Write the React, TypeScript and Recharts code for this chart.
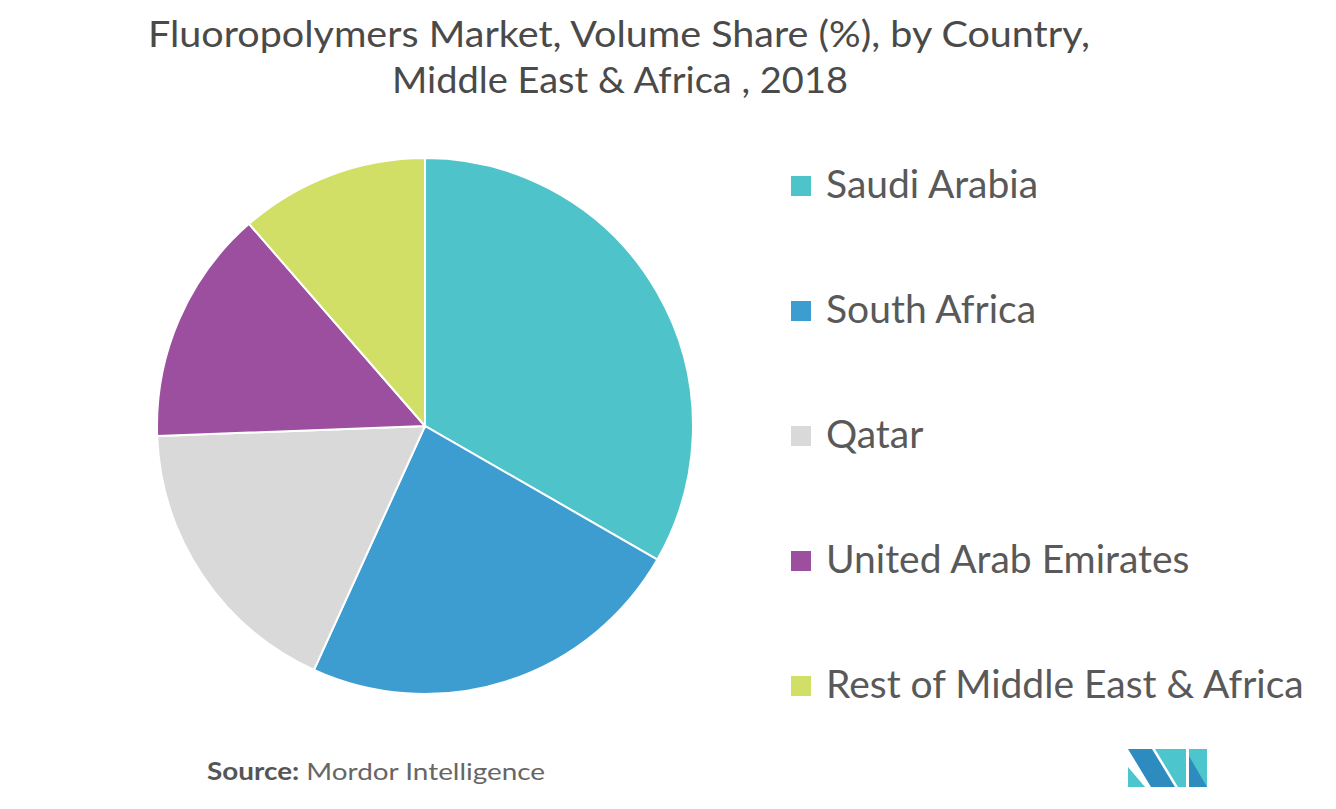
import React from 'react';
import { PieChart, Pie, Cell, Legend } from 'recharts';

const countries = ['Saudi Arabia', 'South Africa', 'Qatar', 'United Arab Emirates', 'Rest of Middle East & Africa'];
const shares = [33.3, 23.5, 17.6, 14.2, 11.4];
const colors = ['#4FC3CA', '#3D9DD0', '#D9D9D9', '#9B4F9E', '#D1DF66'];
const titleLines = ['Fluoropolymers Market, Volume Share (%), by Country,', 'Middle East & Africa , 2018'];
const sourceLabel = 'Source:';
const sourceName = 'Mordor Intelligence';

const data = countries.map((name, i) => ({ name, value: shares[i] }));

const W = 1320;
const H = 793;
const FONT = 'Lato, "Open Sans", sans-serif';

const LegendContent = (props: any) => {
  const payload = [...(props.payload || [])].sort(
    (a: any, b: any) => countries.indexOf(a.value) - countries.indexOf(b.value)
  );
  return (
    <svg width={540} height={580} style={{ display: 'block' }}>
      {payload.map((p: any, i: number) => {
        const cy = 28 + i * 125;
        return (
          <g key={i}>
            <rect x={8} y={cy - 10} width={20} height={20} fill={p.color} />
            <text x={43} y={cy + 12} fontFamily={FONT} fontSize={39} fill="#595959">
              {p.value}
            </text>
          </g>
        );
      })}
    </svg>
  );
};

export default function App() {
  return (
    <div style={{ position: 'relative', width: W, height: H, background: '#fff' }}>
      <svg width={W} height={H} style={{ position: 'absolute', left: 0, top: 0 }}>
        <text x={611} y={39} textAnchor="middle" fontFamily={FONT} fontSize={37} fill="#4a4a4a"
          textLength={942} lengthAdjust="spacingAndGlyphs">{titleLines[0]}</text>
        <text x={612} y={85} textAnchor="middle" fontFamily={FONT} fontSize={37} fill="#4a4a4a"
          textLength={456} lengthAdjust="spacingAndGlyphs">{titleLines[1]}</text>
        <text x={199} y={772} fontFamily={FONT} fontSize={24} fill="#666"
          textLength={338} lengthAdjust="spacingAndGlyphs">
          <tspan fontWeight="bold" fill="#555">{sourceLabel}</tspan>
          <tspan> {sourceName}</tspan>
        </text>
        <g>
          <polygon points="1120,741 1144,741 1167,779 1143,779" fill="#2E8BC0" />
          <polygon points="1120,759 1120,779 1137,779" fill="#4CC5CC" />
          <polygon points="1147,741 1178,741 1178,779 1170,779" fill="#4CC5CC" />
          <polygon points="1181,741 1199,741 1199,779 1181,779" fill="#4CC5CC" />
          <polygon points="1181,748 1199,779 1181,779" fill="#2E8BC0" />
        </g>
      </svg>
      <div style={{ position: 'absolute', left: 0, top: 0 }}>
        <PieChart width={W} height={H} margin={{ top: 0, right: 0, bottom: 0, left: 0 }}>
          <Pie
            data={data}
            dataKey="value"
            nameKey="name"
            cx={417}
            cy={418}
            outerRadius={268}
            startAngle={90}
            endAngle={-270}
            stroke="#ffffff"
            strokeWidth={2}
            isAnimationActive={false}
            label={false}
            labelLine={false}
          >
            {data.map((d, i) => (
              <Cell key={d.name} fill={colors[i]} />
            ))}
          </Pie>
          <Legend
            layout="vertical"
            align="right"
            verticalAlign="top"
            itemSorter={null as any}
            content={<LegendContent />}
            wrapperStyle={{ left: 775, top: 150, width: 540, height: 580 }}
          />
        </PieChart>
      </div>
    </div>
  );
}
